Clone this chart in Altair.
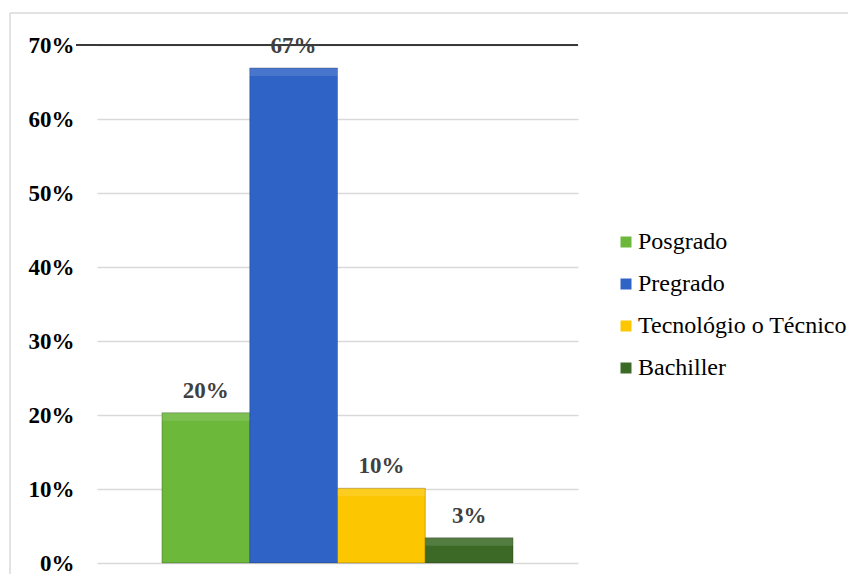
import altair as alt
import pandas as pd

categories = ["Posgrado", "Pregrado", "Tecnológio o Técnico", "Bachiller"]
values = [0.203, 0.669, 0.101, 0.034]
colors = ["#6cb83a", "#2f63c6", "#fcc600", "#3c6a26"]
y_ticks = [0, 0.1, 0.2, 0.3, 0.4, 0.5, 0.6, 0.7]

df = pd.DataFrame({"cat": categories, "val": values})

FONT = "Liberation Serif"
W, H = 481, 518

x_enc = alt.X("cat:N", sort=categories, axis=None,
              scale=alt.Scale(paddingInner=0, paddingOuter=0.74))
y_scale = alt.Scale(domain=[0, 0.7], nice=False)

bars = alt.Chart(df).mark_bar(stroke="black", strokeOpacity=0.25, strokeWidth=1).encode(
    x=x_enc,
    y=alt.Y("val:Q", scale=y_scale,
            axis=alt.Axis(values=y_ticks, format=".0%", title=None, domain=False,
                          ticks=False, tickSize=0, labelPadding=23,
                          labelFont=FONT, labelFontSize=23, labelFontWeight="bold",
                          labelColor="black", grid=True, gridColor="#d9d9d9",
                          gridWidth=1.5)),
    color=alt.Color("cat:N", sort=categories,
                    scale=alt.Scale(domain=categories, range=colors),
                    legend=alt.Legend(title=None, orient="none", legendX=517, legendY=185,
                                      symbolType="square", symbolSize=121,
                                      symbolStrokeWidth=0, symbolOpacity=1,
                                      labelFont=FONT, labelFontSize=24, labelColor="black",
                                      labelOffset=0, labelLimit=400,
                                      rowPadding=18, padding=0)),
)

bevel = alt.Chart(df).mark_bar(color="white", opacity=0.12, y2Offset=8).encode(
    x=x_enc,
    y=alt.Y("val:Q", scale=y_scale),
    y2="val:Q",
)

top_rule = alt.Chart(pd.DataFrame({"v": [0.7]})).mark_rule(
    color="#3a3a3a", strokeWidth=2).encode(
    y=alt.Y("v:Q", scale=y_scale),
    x=alt.value(-21), x2=alt.value(W),
)

labels = alt.Chart(df).mark_text(
    font=FONT, fontSize=23, fontWeight="bold", color="#404040",
    baseline="alphabetic", dy=-15).encode(
    x=x_enc,
    y=alt.Y("val:Q", scale=y_scale),
    text=alt.Text("val:Q", format=".0%"),
)

border_left = alt.Chart(pd.DataFrame({"a": [1]})).mark_rule(color="#d9d9d9", strokeWidth=1.5).encode(
    x=alt.value(-87), y=alt.value(-32), y2=alt.value(H + 40))
border_top = alt.Chart(pd.DataFrame({"a": [1]})).mark_rule(color="#d9d9d9", strokeWidth=1.5).encode(
    y=alt.value(-32), x=alt.value(-87), x2=alt.value(W + 320))

chart = alt.layer(border_left, border_top, bars, bevel, top_rule, labels).properties(
    width=W, height=H,
    autosize=alt.AutoSizeParams(type="none"),
    padding={"left": 89, "top": 37, "right": 270, "bottom": 11},
).configure(background="white").configure_view(stroke=None)

chart.save("out.html", embed_options={"renderer": "svg", "actions": False})
